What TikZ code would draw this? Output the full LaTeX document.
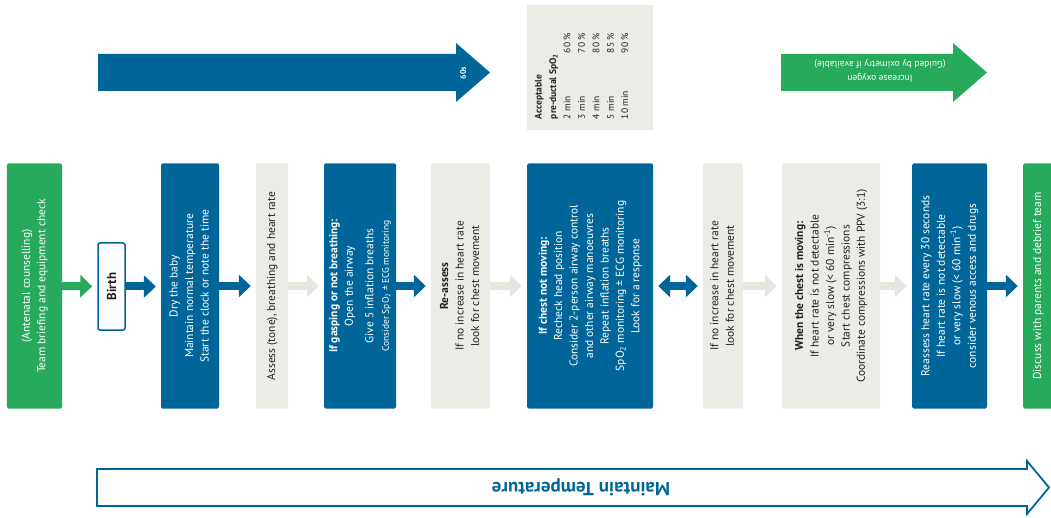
\documentclass[tikz,border=0pt]{standalone}
\usepackage{graphicx}
\usepackage{fontspec}
\setmainfont{PT Sans}
\usetikzlibrary{arrows.meta}
\definecolor{nblue}{RGB}{0,102,153}
\definecolor{ngreen}{RGB}{40,170,92}
\definecolor{ngray}{RGB}{236,236,231}
\definecolor{agray}{RGB}{230,230,224}
\definecolor{ndark}{RGB}{35,31,32}
\newcommand{\vlines}[1]{\rotatebox{90}{\begin{tabular}{@{}c@{}}#1\end{tabular}}}
\tikzset{
  box/.style={minimum height=245bp, inner sep=0pt, rounded corners=1.5bp,
    font=\fontsize{11.5}{15.5}\selectfont},
  bluebox/.style={box, fill=nblue, text=white},
  graybox/.style={box, fill=ngray, text=ndark},
  greenbox/.style={box, fill=ngreen, text=white},
  conn/.style={line width=8bp, -{Triangle[width=22bp,length=12bp]}, shorten >=5bp},
  bluec/.style={conn, draw=nblue},
  grayc/.style={conn, draw=agray},
  greenc/.style={conn, draw=ngreen}
}
\begin{document}
\begin{tikzpicture}[x=1bp,y=-1bp]
\useasboundingbox (0,0) rectangle (1051,518);

% top arrows
\fill[nblue] (98,54) -- (456,54) -- (456,43) -- (490,72.5) -- (456,102) -- (456,91) -- (98,91) -- cycle;
\node[text=white, font=\fontsize{8}{9}\selectfont\bfseries, rotate=90] (sixty) at (463,73) {60s};

\fill[ngreen] (781,54) -- (953,54) -- (953,43) -- (987,72.5) -- (953,102) -- (953,91) -- (781,91) -- cycle;
\node[text=white, font=\fontsize{9.5}{14}\selectfont, rotate=180, align=center] (oxy) at (880,71) {Increase oxygen\\(Guided by oximetry if available)};

% SpO2 table
\node[fill=ngray, minimum width=126bp, minimum height=125bp, inner sep=0pt] (spo2) at (590,67.5) {};
\node[text=ndark, font=\fontsize{9.5}{14.5}\selectfont, inner sep=0pt] (spo2t) at ([xshift=-8bp,yshift=-8.5bp]spo2.center)
  {\rotatebox{90}{\begin{tabular}{@{}p{66bp}@{}r@{}}
  \multicolumn{2}{@{}l@{}}{\bfseries Acceptable}\\
  \multicolumn{2}{@{}l@{}}{\bfseries pre-ductal SpO\textsubscript{2}}\\
  2 min & 60 \%\\
  3 min & 70 \%\\
  4 min & 80 \%\\
  5 min & 85 \%\\
  10 min & 90 \%
  \end{tabular}}};

% boxes
\node[greenbox, minimum width=55bp] (g1) at (34.5,286) {\vlines{(Antenatal counselling)\\Team briefing and equipment check}};
\node[fill=white, draw=nblue, line width=1.5bp, rounded corners=2bp, minimum width=27bp, minimum height=87bp, inner sep=0pt,
  text=ndark, font=\fontsize{13}{15}\selectfont\bfseries] (birth) at (111.5,286.5) {\rotatebox{90}{Birth}};
\node[bluebox, minimum width=58bp] (dry) at (190,286) {\vlines{Dry the baby\\Maintain normal temperature\\Start the clock or note the time}};
\node[graybox, minimum width=32bp] (assess) at (272,286) {\vlines{Assess (tone), breathing and heart rate}};
\node[bluebox, minimum width=72bp] (gasp) at (360,286) {\vlines{\bfseries If gasping or not breathing:\\Open the airway\\[5bp]Give 5 inflation breaths\\{\fontsize{9.5}{12}\selectfont Consider SpO\textsubscript{2} ± ECG monitoring}}};
\node[graybox, minimum width=59bp] (reass) at (460.5,286) {\vlines{\bfseries Re-assess\\If no increase in heart rate\\look for chest movement}};
\node[bluebox, minimum width=126bp] (chest) at (590,286) {\vlines{\bfseries If chest not moving:\\Recheck head position\\Consider 2-person airway control\\and other airway manoeuvres\\Repeat inflation breaths\\SpO\textsubscript{2} monitoring ± ECG monitoring\\Look for a response}};
\node[graybox, minimum width=40bp] (noinc) at (723,286) {\vlines{If no increase in heart rate\\look for chest movement}};
\node[graybox, minimum width=98bp] (when) at (831,286) {\vlines{\bfseries When the chest is moving:\\If heart rate is not detectable\\or very slow (< 60 min\textsuperscript{-1})\\Start chest compressions\\Coordinate compressions with PPV (3:1)}};
\node[bluebox, minimum width=75bp] (r30) at (949.5,286) {\vlines{Reassess heart rate every 30 seconds\\If heart rate is not detectable\\or very slow (< 60 min\textsuperscript{-1})\\consider venous access and drugs}};
\node[greenbox, minimum width=30bp] (disc) at (1038,286) {\vlines{Discuss with parents and debrief team}};

% connectors
\draw[greenc] (g1.east) -- (birth.west);
\draw[bluec] (birth.east) -- (birth.east -| dry.west);
\draw[bluec] (dry.east) -- (assess.west);
\draw[grayc] (assess.east) -- (gasp.west);
\draw[bluec] (gasp.east) -- (reass.west);
\draw[grayc] (reass.east) -- (chest.west);
\draw[line width=8bp, draw=nblue, {Triangle[width=22bp,length=12bp]}-{Triangle[width=22bp,length=12bp]}, shorten <=5bp, shorten >=5bp] (chest.east) -- (noinc.west);
\draw[grayc] (noinc.east) -- (when.west);
\draw[grayc] (when.east) -- (r30.west);
\draw[bluec] (r30.east) -- (disc.west);

% bottom arrow
\draw[nblue, line width=1.8bp, fill=white, line join=miter] (97,469) -- (1027,469) -- (1027,461) -- (1049,487.5) -- (1027,514) -- (1027,506) -- (97,506) -- cycle;
\node[text=nblue, font=\fontsize{19}{21}\selectfont\bfseries, rotate=180] (temp) at (581,487.5) {Maintain Temperature};
\end{tikzpicture}
\end{document}
